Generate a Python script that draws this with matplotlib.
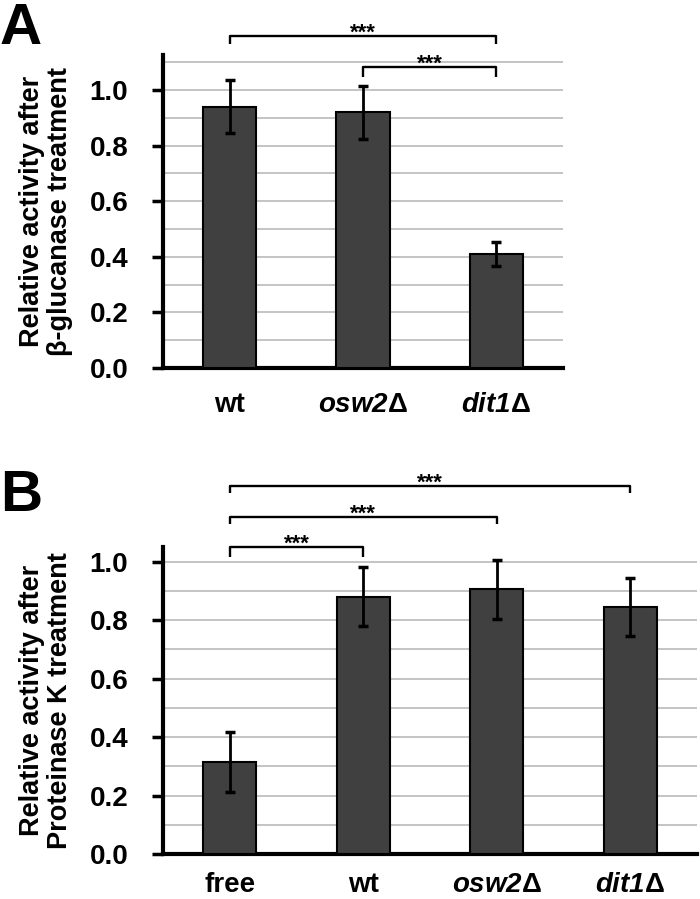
import numpy as np
import matplotlib
matplotlib.use('Agg')
import matplotlib.pyplot as plt
from matplotlib.ticker import MultipleLocator

plt.rcParams['font.family'] = ['Liberation Sans', 'DejaVu Sans']
plt.rcParams['font.weight'] = 'bold'
plt.rcParams['mathtext.fontset'] = 'custom'
plt.rcParams['mathtext.it'] = 'Liberation Sans:italic:bold'
plt.rcParams['mathtext.rm'] = 'Liberation Sans:italic:bold'

# Panel A: beta-glucanase treatment
labels_a = ['wt', r'$\mathit{osw2}$Δ', r'$\mathit{dit1}$Δ']
means_a = [0.94, 0.92, 0.41]
errs_a = [0.095, 0.095, 0.043]
# significance brackets: (from, to, height, leg bottom)
pairs_a = [(0, 2, 1.194, 1.165), (1, 2, 1.083, 1.047)]

# Panel B: proteinase K treatment
labels_b = ['free', 'wt', r'$\mathit{osw2}$Δ', r'$\mathit{dit1}$Δ']
means_b = [0.315, 0.88, 0.905, 0.845]
errs_b = [0.102, 0.10, 0.10, 0.10]
pairs_b = [(0, 1, 1.051, 1.017), (0, 2, 1.154, 1.127), (0, 3, 1.26, 1.233)]

W, H = 700, 899
fig = plt.figure(figsize=(W / 100, H / 100), dpi=100)


def panel(rect, labels, means, errs, pairs, ytop, ylabel, xpad):
    ax = fig.add_axes(rect)
    x = np.arange(len(labels))
    ax.bar(x, means, width=0.4, color='#404040', edgecolor='black', linewidth=1.5, zorder=3)
    ax.errorbar(x, means, yerr=errs, fmt='none', ecolor='black', elinewidth=2,
                capsize=3.5, capthick=2.5, zorder=4)
    ax.set_xlim(-0.5, len(labels) - 0.5)
    ax.set_ylim(0, ytop)
    ax.yaxis.set_major_locator(MultipleLocator(0.2))
    ax.yaxis.set_minor_locator(MultipleLocator(0.1))
    ax.yaxis.set_major_formatter(plt.FormatStrFormatter('%.1f'))
    ax.grid(True, axis='y', which='both', color='#c4c4c4', linewidth=1.4, zorder=0)
    ax.set_axisbelow(True)
    for s in ['top', 'right']:
        ax.spines[s].set_visible(False)
    for s in ['left', 'bottom']:
        ax.spines[s].set_linewidth(3)
    ax.tick_params(axis='y', which='major', direction='out', length=8, width=2.5,
                   labelsize=20, pad=17)
    ax.tick_params(axis='y', which='minor', length=0)
    ax.tick_params(axis='x', length=0, labelsize=20, pad=xpad)
    ax.set_xticks(x)
    ax.set_xticklabels(labels)
    ax.set_ylabel(ylabel, fontsize=19.5, fontweight='bold', linespacing=1.1, labelpad=12)
    for i, j, yb, yl in pairs:
        ax.plot([x[i], x[i], x[j], x[j]], [yl, yb, yb, yl], color='black',
                linewidth=1.7, clip_on=False, solid_capstyle='butt')
        ax.annotate('***', ((x[i] + x[j]) / 2, yb), xytext=(0, -2),
                    textcoords='offset points', ha='center', va='baseline',
                    fontsize=16, fontweight='bold', annotation_clip=False)
    return ax


panel([163 / W, 1 - 368 / H, 400 / W, 313 / H], labels_a, means_a, errs_a, pairs_a,
      1.126, 'Relative activity after\nβ-glucanase treatment', 17)
panel([163 / W, 1 - 854 / H, 534 / W, 307 / H], labels_b, means_b, errs_b, pairs_b,
      1.05, 'Relative activity after\nProteinase K treatment', 13)

fig.text(0.0, 1 - 44 / H, 'A', fontsize=42, fontweight='bold')
fig.text(0.0, 1 - 511 / H, 'B', fontsize=42, fontweight='bold')

fig.savefig('out.png', dpi=100)
